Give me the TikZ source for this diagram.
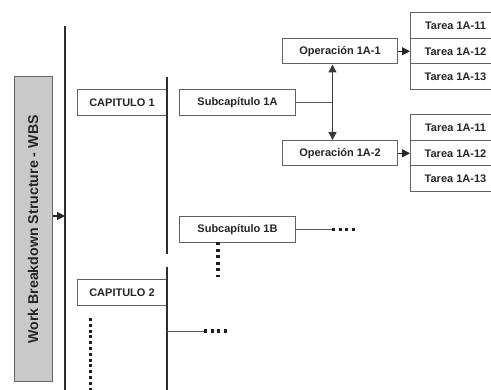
\documentclass[tikz,border=0pt]{standalone}
\usepackage{fontspec}
\setmainfont{Liberation Sans}
\usetikzlibrary{arrows.meta}
\tikzset{
  x=1pt,y=-1pt,
  box/.style={draw=black!62,line width=1pt,fill=white,inner sep=0pt,font=\fontsize{11}{12}\selectfont\bfseries,text=black!85,anchor=north west},
  chap/.style={box,minimum width=89pt,minimum height=26pt},
  sub/.style={box,minimum width=116pt,minimum height=26pt},
  task/.style={box,minimum width=90pt,minimum height=25.5pt},
  wbs/.style={draw=black!60,line width=1pt,fill=black!21,inner sep=0pt,minimum width=38pt,minimum height=305pt,anchor=north west},
  bar/.style={line width=2.2pt,draw=black!82},
  link/.style={line width=0.9pt,draw=black!65},
  arrow/.style={line width=1.1pt,draw=black!85,-{Triangle[length=8pt,width=8pt]}},
  darrow/.style={line width=1.4pt,draw=black!78,{Triangle[length=8pt,width=8pt]}-{Triangle[length=8pt,width=8pt]}},
  dots/.style={line width=3.2pt,draw=black!88,dash pattern=on 3pt off 3.5pt},
  longdots/.style={line width=3.2pt,draw=black!88,dash pattern=on 3pt off 2.8pt}
}
\begin{document}
\begin{tikzpicture}
\useasboundingbox (0,0) rectangle (491,390);
% WBS
\node[wbs] (w) at (14,76) {};
\node[rotate=90,font=\fontsize{14.2}{16}\selectfont\bfseries,text=black!85] (wt) at (33,229.5) {Work Breakdown Structure - WBS};
% main bars
\coordinate (m1) at (65,26); \coordinate (m2) at (65,390);
\draw[bar] (m1) -- (m2);
\coordinate (a) at (65,216);
\draw[arrow] (w.east |- a) -- (a);
\coordinate (c1a) at (167,77); \coordinate (c1b) at (167,254);
\coordinate (c2a) at (167,267); \coordinate (c2b) at (167,390);
% boxes
\node[chap] (cap1) at (77,89) {CAPITULO 1};
\node[chap] (cap2) at (77,279) {CAPITULO 2};
\draw[bar] (c1a) -- (c1b);
\draw[bar] (c2a) -- (c2b);
\node[sub] (s1a) at (179,89) {Subcapítulo 1A};
\node[sub] (s1b) at (179,216) {Subcapítulo 1B};
\node[sub,minimum width=115pt,minimum height=25.5pt] (o1) at (282,38) {Operación 1A-1};
\node[sub,minimum width=115pt,minimum height=25.5pt] (o2) at (282,140) {Operación 1A-2};
\node[task] (t11) at (410,12.5) {Tarea 1A-11};
\node[task] (t12) at (410,38) {Tarea 1A-12};
\node[task] (t13) at (410,63.5) {Tarea 1A-13};
\node[task] (t21) at (410,114.5) {Tarea 1A-11};
\node[task] (t22) at (410,140) {Tarea 1A-12};
\node[task] (t23) at (410,165.5) {Tarea 1A-13};
% connectors
\coordinate (jx) at (332.5,0);
\draw[link] (s1a.east) -- (s1a.east -| jx);
\draw[darrow] (jx |- o1.south) -- (jx |- o2.north);
\draw[arrow] (o1.east) -- (t12.west);
\draw[arrow] (o2.east) -- (t22.west);
\coordinate (dx1) at (332,0);
\coordinate (dx2) at (355,0);
\draw[link] (s1b.east) -- (s1b.east -| dx1);
\draw[dots] (s1b.east -| dx1) -- (s1b.east -| dx2);
\coordinate (d3) at (218,242.5);
\coordinate (d4) at (218,277);
\draw[dots] (d3) -- (d4);
\coordinate (e0) at (167,331);
\coordinate (e1) at (204,331);
\coordinate (e2) at (227,331);
\draw[link] (e0) -- (e1);
\draw[dots] (e1) -- (e2);
\coordinate (f1) at (90.5,318);
\coordinate (f2) at (90.5,390);
\draw[longdots] (f1) -- (f2);
\end{tikzpicture}
\end{document}
